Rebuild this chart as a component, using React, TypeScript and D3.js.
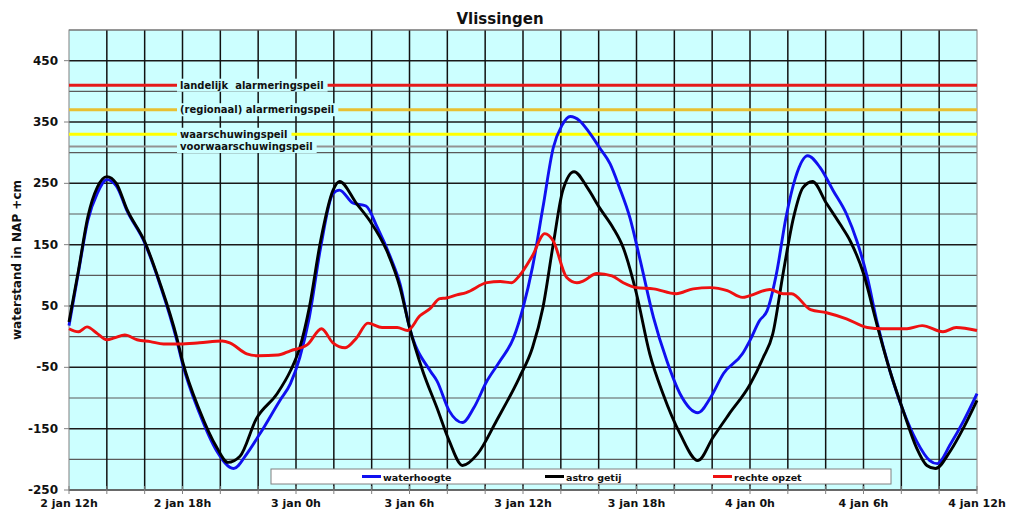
import React, { useEffect, useRef } from 'react';
import * as d3 from 'd3';

// hours since 2 jan 12h
const xTickLabels = ['2 jan 12h', '2 jan 18h', '3 jan 0h', '3 jan 6h', '3 jan 12h', '3 jan 18h', '4 jan 0h', '4 jan 6h', '4 jan 12h'];
const yTickLabels = [450, 350, 250, 150, 50, -50, -150, -250];

const thresholds = [
  { label: 'landelijk  alarmeringspeil', value: 410, color: '#e41b1b' },
  { label: '(regionaal) alarmeringspeil', value: 370, color: '#e8c032' },
  { label: 'waarschuwingspeil', value: 330, color: '#ffff00' },
  { label: 'voorwaarschuwingspeil', value: 310, color: '#939393' },
];

const waterhoogte: [number, number][] = [
  [0, 18], [0.5, 105], [1, 190], [1.5, 234], [2, 256], [2.5, 246], [3.07, 205], [4, 153], [4.8, 86],
  [5.7, -6], [6, -44], [6.9, -125], [7.8, -186], [8.7, -215], [9.4, -191], [10.1, -158], [11.15, -104],
  [11.7, -77], [12.2, -34], [12.7, 31], [13.3, 145], [13.95, 233], [14.3, 239], [15, 218], [15.7, 213],
  [16.3, 178], [17, 129], [17.5, 86], [18, 15], [19.1, -56], [19.45, -72], [20.1, -121], [20.8, -140],
  [21.4, -116], [22.1, -72], [22.8, -39], [23.5, -2], [24, 47], [24.5, 113], [25.05, 210], [25.6, 308],
  [26.05, 344], [26.5, 359], [27, 352], [27.5, 333], [28.05, 308], [28.6, 282], [29.1, 243], [29.65, 194],
  [30.2, 124], [30.9, 31], [31.6, -39], [32.3, -93], [33.25, -124], [33.9, -100], [34.6, -60], [35.6, -28],
  [36, -6], [36.5, 26], [36.9, 42], [37.4, 103], [37.9, 194], [38.4, 259], [39.05, 295], [39.7, 276],
  [40.4, 238], [41.1, 200], [41.65, 156], [42.2, 97], [42.7, 26], [43.4, -56], [44.1, -121], [44.8, -170],
  [45.5, -202], [45.9, -207], [46.6, -175], [47.3, -137], [48, -93],
];

const astroGetij: [number, number][] = [
  [0, 24], [0.5, 108], [1, 196], [1.5, 244], [2, 261], [2.5, 250], [3.07, 207], [4, 155], [4.8, 88],
  [5.7, -2], [6, -40], [6.9, -120], [7.8, -180], [8.4, -205], [9.04, -195], [9.9, -134], [11, -93],
  [11.7, -56], [12.2, -18], [12.7, 47], [13.3, 156], [13.95, 238], [14.3, 253], [15.2, 217], [15.9, 189],
  [16.8, 140], [17.5, 80], [18, 15], [18.7, -56], [19.45, -116], [20.1, -170], [20.8, -210], [21.6, -191],
  [22.6, -137], [23.8, -67], [24.5, -18], [25.05, 47], [25.6, 151], [26.1, 238], [26.7, 269], [27.4, 243],
  [28.05, 210], [28.75, 178], [29.3, 145], [30, 70], [30.7, -28], [31.4, -93], [32.3, -158], [33.25, -202],
  [34.05, -164], [34.9, -126], [36, -78], [36.7, -34], [37.2, 4], [37.75, 103], [38.3, 194], [38.8, 243],
  [39.3, 253], [40.05, 217], [40.75, 184], [41.3, 156], [42, 103], [42.7, 21], [43.4, -56], [44.1, -121],
  [44.8, -181], [45.35, -210], [45.8, -215], [46.6, -186], [47.3, -148], [48, -104],
];

const rechteOpzet: [number, number][] = [
  [0, 13], [0.5, 8], [0.95, 16], [1.5, 5], [2, -5], [2.4, -2], [2.95, 3], [3.6, -5], [4.3, -8], [5, -12],
  [5.85, -12], [6.9, -10], [8.1, -7], [8.5, -10], [9.4, -28], [10, -31], [11.05, -30], [11.7, -23],
  [12.6, -13], [13.35, 13], [13.95, -10], [14.6, -18], [15.2, -2], [15.8, 22], [16.55, 15], [17.35, 15],
  [17.9, 10], [18.55, 34], [19.1, 46], [19.6, 62], [19.95, 63], [20.5, 68], [21, 72], [22.1, 88], [22.8, 90],
  [23.4, 88], [23.8, 99], [24.5, 132], [25.15, 168], [25.6, 156], [26.3, 97], [26.85, 88], [27.2, 91],
  [27.9, 103], [28.7, 99], [29.3, 88], [30, 80], [30.9, 78], [32.1, 70], [33, 78], [33.9, 80], [34.8, 75],
  [35.6, 64], [36, 67], [37.05, 77], [37.75, 70], [38.2, 70], [39.2, 44], [40.05, 39], [41.1, 29],
  [42.2, 15], [43, 13], [44.3, 13], [45.1, 18], [46.2, 8], [46.9, 15], [48, 10],
];

const legendItems = [
  { name: 'waterhoogte', color: '#1010f0' },
  { name: 'astro getij', color: '#000000' },
  { name: 'rechte opzet', color: '#ee1111' },
];

const FONT = '"DejaVu Sans", Verdana, sans-serif';

export default function App() {
  const svgRef = useRef<SVGSVGElement>(null);

  useEffect(() => {
    const svg = d3.select(svgRef.current);
    svg.selectAll('*').remove();

    const x = d3.scaleLinear().domain([0, 48]).range([69, 977]);
    const y = d3.scaleLinear().domain([-250, 500]).range([490, 30]);

    svg.append('rect').attr('width', 1020).attr('height', 510).attr('fill', '#fff');

    // plot background
    svg.append('rect')
      .attr('x', x(0)).attr('y', y(500))
      .attr('width', x(48) - x(0)).attr('height', y(-250) - y(500))
      .attr('fill', '#ccffff');

    // horizontal grid
    d3.range(-250, 501, 50).forEach(v => {
      const major = yTickLabels.includes(v);
      svg.append('line')
        .attr('x1', x(0)).attr('x2', x(48))
        .attr('y1', y(v)).attr('y2', y(v))
        .attr('stroke', major ? '#1a1a1a' : '#5a5a5a')
        .attr('stroke-width', major ? 1.5 : 1.2);
    });

    // vertical grid every 2 hours
    d3.range(2, 48, 2).forEach(h => {
      svg.append('line')
        .attr('x1', x(h)).attr('x2', x(h))
        .attr('y1', y(500)).attr('y2', y(-250))
        .attr('stroke', '#111').attr('stroke-width', 1.5);
    });

    // plot border
    svg.append('rect')
      .attr('x', x(0)).attr('y', y(500))
      .attr('width', x(48) - x(0)).attr('height', y(-250) - y(500))
      .attr('fill', 'none').attr('stroke', '#808080').attr('stroke-width', 1);

    // threshold lines with labels
    thresholds.forEach(t => {
      svg.append('line')
        .attr('x1', x(0)).attr('x2', x(48))
        .attr('y1', y(t.value)).attr('y2', y(t.value))
        .attr('stroke', t.color).attr('stroke-width', t.value === 310 ? 2 : 3);
      const txt = svg.append('text')
        .attr('x', 180).attr('y', y(t.value))
        .attr('dominant-baseline', 'central')
        .attr('font-family', FONT).attr('font-weight', 'bold').attr('font-size', 10)
        .attr('fill', '#111')
        .style('white-space', 'pre')
        .text(t.label);
      const bb = (txt.node() as SVGTextElement).getBBox();
      svg.insert('rect', () => txt.node())
        .attr('x', bb.x - 3).attr('y', y(t.value) - 6.5)
        .attr('width', bb.width + 7).attr('height', 13)
        .attr('fill', '#ccffff');
    });

    // series
    const line = d3.line<[number, number]>()
      .x(d => x(d[0]))
      .y(d => y(d[1]))
      .curve(d3.curveMonotoneX);

    [waterhoogte, astroGetij, rechteOpzet].forEach((s, i) => {
      svg.append('path')
        .datum(s)
        .attr('d', line)
        .attr('fill', 'none')
        .attr('stroke', legendItems[i].color)
        .attr('stroke-width', 2.9)
        .attr('stroke-linejoin', 'round');
    });

    // y axis ticks and labels
    yTickLabels.forEach(v => {
      svg.append('line')
        .attr('x1', x(0) - 5).attr('x2', x(0))
        .attr('y1', y(v)).attr('y2', y(v))
        .attr('stroke', '#808080');
      svg.append('text')
        .attr('x', 58).attr('y', y(v))
        .attr('text-anchor', 'end').attr('dominant-baseline', 'central')
        .attr('font-family', FONT).attr('font-weight', 'bold').attr('font-size', 12)
        .attr('fill', '#111')
        .text(v);
    });

    // x axis ticks and labels
    d3.range(0, 49, 2).forEach(h => {
      svg.append('line')
        .attr('x1', x(h)).attr('x2', x(h))
        .attr('y1', y(-250) - 4).attr('y2', y(-250) + 4)
        .attr('stroke', '#808080');
    });
    xTickLabels.forEach((lbl, i) => {
      svg.append('text')
        .attr('x', x(i * 6)).attr('y', 507)
        .attr('text-anchor', 'middle')
        .attr('font-family', FONT).attr('font-weight', 'bold').attr('font-size', 11)
        .attr('fill', '#111')
        .text(lbl);
    });

    // legend
    svg.append('rect')
      .attr('x', 271).attr('y', 469).attr('width', 620).attr('height', 15)
      .attr('fill', '#fff').attr('stroke', '#808080');
    const legendX = [362, 545, 713];
    legendItems.forEach((it, i) => {
      svg.append('line')
        .attr('x1', legendX[i]).attr('x2', legendX[i] + 19)
        .attr('y1', 476.5).attr('y2', 476.5)
        .attr('stroke', it.color).attr('stroke-width', 3);
      svg.append('text')
        .attr('x', legendX[i] + 21).attr('y', 477)
        .attr('dominant-baseline', 'central')
        .attr('font-family', FONT).attr('font-weight', 'bold').attr('font-size', 9.5)
        .attr('fill', '#111')
        .text(it.name);
    });

    // title
    svg.append('text')
      .attr('x', 500).attr('y', 24)
      .attr('text-anchor', 'middle')
      .attr('font-family', FONT).attr('font-weight', 'bold').attr('font-size', 15)
      .attr('fill', '#111')
      .text('Vlissingen');

    // y axis title
    svg.append('text')
      .attr('transform', `translate(21, ${(y(500) + y(-250)) / 2}) rotate(-90)`)
      .attr('text-anchor', 'middle')
      .attr('font-family', FONT).attr('font-weight', 'bold').attr('font-size', 12)
      .attr('fill', '#111')
      .text('waterstand in NAP +cm');
  }, []);

  return (
    <svg ref={svgRef} width={1020} height={510} style={{ position: 'absolute', left: 0, top: 0 }} />
  );
}
